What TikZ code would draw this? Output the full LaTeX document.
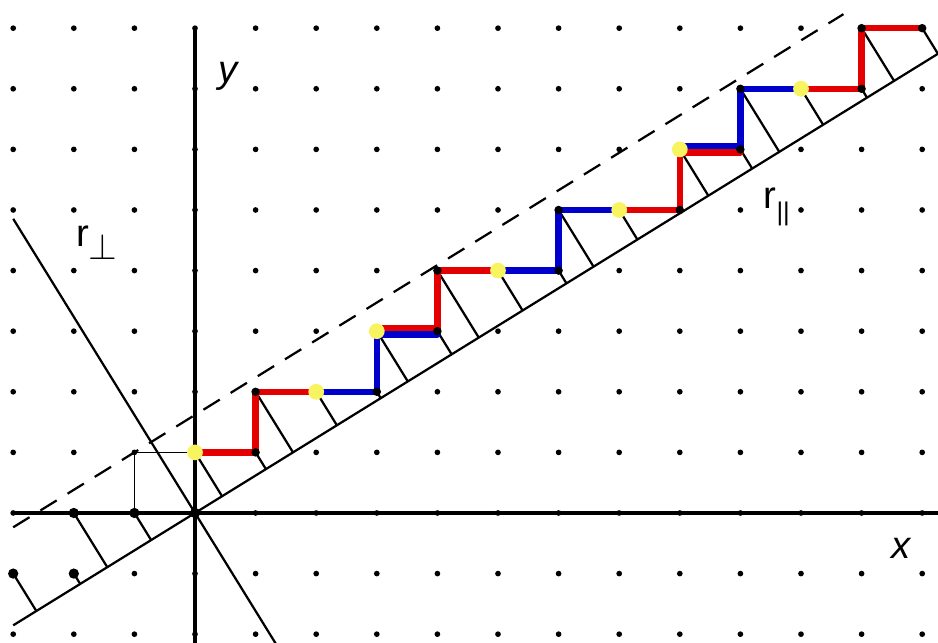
\documentclass[tikz,border=0pt]{standalone}
\usepackage{fontspec}
\setmainfont{Liberation Sans}
\usetikzlibrary{calc}
\definecolor{chainred}{RGB}{228,0,0}
\definecolor{chainblue}{RGB}{0,0,205}
\definecolor{pointyellow}{RGB}{248,244,96}
\begin{document}
\begin{tikzpicture}[
  axisline/.style={line width=1.5pt},
  proj/.style={line width=1.05pt},
  redstep/.style={chainred,line width=3pt,line cap=round,line join=round},
  bluestep/.style={chainblue,line width=3pt,line cap=round,line join=round},
  tag/.style={font=\fontsize{18}{20}\selectfont,inner sep=0pt}]
  \useasboundingbox (-3.218,-2.145) rectangle (12.261,8.465);
  % 格点
  \foreach \x in {-3,...,12}
    \foreach \y in {-2,...,8}
      \fill (\x,\y) circle (0.047);
  % 坐标轴
  \coordinate (O) at (0,0);
  \draw[axisline] (-3,0) -- (12.261,0);
  \draw[axisline] (0,8) -- (0,-2.145);
  % 平行线、窗口边界与垂直线
  \coordinate (par0) at (-3,-1.854);
  \coordinate (par1) at (12.261,7.578);
  \draw[proj] (par0) -- (par1);
  \draw[proj,dash pattern=on 9pt off 6pt] (-3,-0.236) -- (10.7,8.231);
  \draw[proj] (-3,4.854) -- (1.33,-2.152);
  % 投影
  \foreach \a/\b in {-3/-1,-2/-1,-2/0,-1/0,0/1,1/1,1/2,2/2,3/2,3/3,4/3,4/4,5/4,
                     6/4,6/5,7/5,8/5,8/6,9/6,9/7,10/7,11/7,11/8,12/8}
    \draw[proj] (\a,\b) -- ($(par0)!(\a,\b)!(par1)$);
  \foreach \a/\b in {-3/-1,-2/-1,-2/0,-1/0,0/0}
    \fill (\a,\b) circle (0.085);
  % 单位方格
  \draw[line width=0.8pt] (-1,0) -- (-1,1) -- (0,1);
  % 链
  \foreach \n/\a/\b in {0/0/1,1/1/1,2/1/2,3/2/2,4/3/2,5/3/3,6/4/3,7/4/4,8/5/4,9/6/4,
                        10/6/5,11/7/5,12/8/5,13/8/6,14/9/6,15/9/7,16/10/7,17/11/7,
                        18/11/8,19/12/8}
    \coordinate (c\n) at (\a,\b);
  \draw[redstep] (c0) -- (c1) -- (c2) -- (c3);
  \draw[bluestep] (c3) -- (c4) -- (c5);
  \draw[redstep] ([yshift=1.5pt]c5) -- ([yshift=1.5pt]c6);
  \draw[bluestep] ([yshift=-1.5pt]c5) -- ([yshift=-1.5pt]c6);
  \draw[redstep] (c6) -- (c7) -- (c8);
  \draw[bluestep] (c8) -- (c9) -- (c10) -- (c11);
  \draw[redstep] (c11) -- (c12) -- (c13);
  \draw[bluestep] ([yshift=1.5pt]c13) -- ([yshift=1.5pt]c14);
  \draw[redstep] ([yshift=-1.5pt]c13) -- ([yshift=-1.5pt]c14);
  \draw[bluestep] (c14) -- (c15) -- (c16);
  \draw[redstep] (c16) -- (c17) -- (c18) -- (c19);
  \foreach \n in {1,2,4,6,7,9,10,12,14,15,17,18,19}
    \fill (c\n) circle (0.07);
  \foreach \n in {0,3,5,8,11,13,16}
    \fill[pointyellow] (c\n) circle (0.13);
  % 标签
  \node[tag] (ylab) at (0.55,7.2) {\itshape y};
  \node[tag] (xlab) at (11.65,-0.58) {\itshape x};
  \node[tag] (rperp) at (-1.62,4.46) {r\raisebox{-6pt}{\fontsize{16}{16}\selectfont$\perp$}};
  \node[tag] (rpar) at (9.6,5.05) {r\raisebox{-6pt}{\fontsize{12}{12}\selectfont||}};
\end{tikzpicture}
\end{document}
